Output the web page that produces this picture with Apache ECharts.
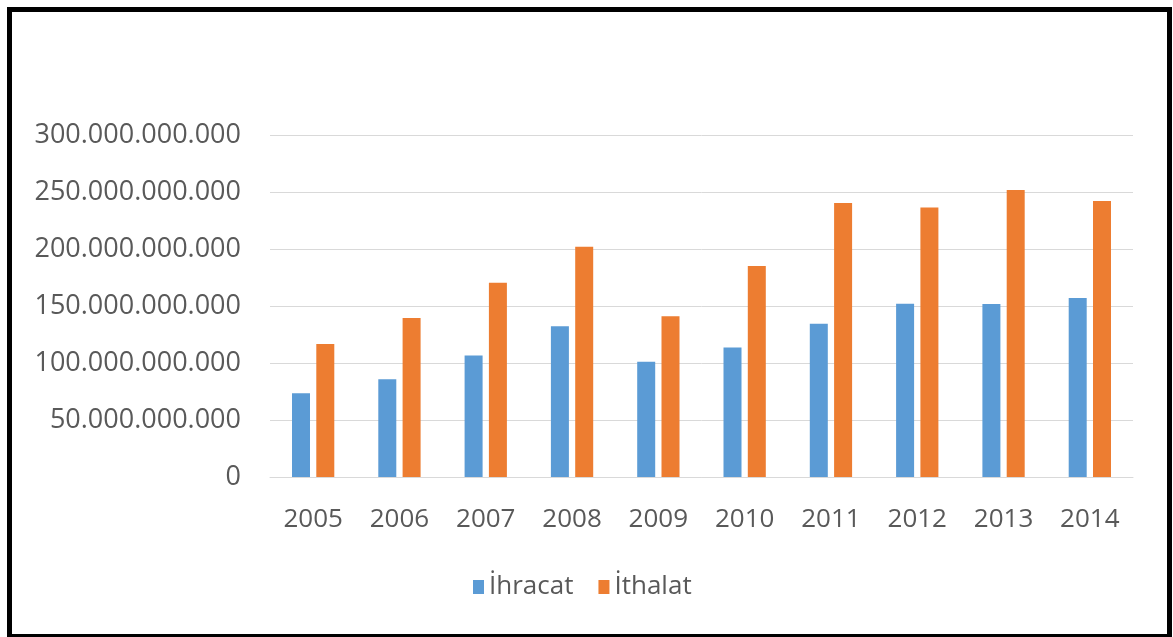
<!DOCTYPE html>
<html>
<head>
<meta charset="utf-8">
<script src="https://cdn.jsdelivr.net/npm/echarts@6/dist/echarts.min.js"></script>
<style>
  html, body { margin: 0; padding: 0; background: #ffffff; }
  #chart { width: 1173px; height: 637px; }
</style>
</head>
<body>
<div id="chart"></div>
<script>
// Türkiye dış ticaret, 2005–2014 (USD)
const years = ['2005', '2006', '2007', '2008', '2009', '2010', '2011', '2012', '2013', '2014'];
const ihracat = [73400000000, 85700000000, 106500000000, 132200000000, 101200000000,
                 113500000000, 134500000000, 152000000000, 151800000000, 157000000000];
const ithalat = [116600000000, 139400000000, 170300000000, 201900000000, 140900000000,
                 185000000000, 240300000000, 236500000000, 251700000000, 242000000000];
const seriesNames = ['İhracat', 'İthalat'];
const yTicks = { min: 0, max: 300000000000, interval: 50000000000 };

// 1.000.000 style grouping
function groupDots(v) {
  return String(Math.round(v)).replace(/\B(?=(\d{3})+(?!\d))/g, '.');
}

const textColor = '#595959';
const fontFamily = '"Open Sans", "Noto Sans", sans-serif';

const chart = echarts.init(document.getElementById('chart'), null, { renderer: 'canvas' });
chart.setOption({
  backgroundColor: '#ffffff',
  animation: false,
  color: ['#5B9BD5', '#ED7D31'],
  textStyle: { fontFamily: fontFamily },
  grid: { left: 270, right: 40, top: 135, bottom: 160, containLabel: false },
  legend: {
    data: seriesNames,
    left: 468,
    top: 569,
    icon: 'rect',
    itemWidth: 11,
    itemHeight: 14,
    itemGap: 25,
    textStyle: { color: textColor, fontSize: 26, fontFamily: fontFamily }
  },
  xAxis: {
    type: 'category',
    data: years,
    axisLine: { show: true, lineStyle: { color: '#D9D9D9', width: 1 } },
    axisTick: { show: false },
    axisLabel: { color: textColor, fontSize: 26, margin: 30, fontFamily: fontFamily }
  },
  yAxis: {
    type: 'value',
    min: yTicks.min,
    max: yTicks.max,
    interval: yTicks.interval,
    axisLine: { show: false },
    axisTick: { show: false },
    splitLine: { lineStyle: { color: '#D9D9D9', width: 1 } },
    axisLabel: {
      color: textColor,
      fontSize: 27,
      margin: 29,
      fontFamily: fontFamily,
      formatter: groupDots
    }
  },
  series: [
    { name: seriesNames[0], type: 'bar', data: ihracat, barWidth: 18, barGap: '35%' },
    { name: seriesNames[1], type: 'bar', data: ithalat, barWidth: 18, barGap: '35%' }
  ],
  graphic: [
    {
      type: 'rect',
      silent: true,
      z: 100,
      shape: { x: 9.5, y: 9.5, width: 1160, height: 627 },
      style: { fill: 'none', stroke: '#000000', lineWidth: 5 }
    }
  ]
});
</script>
</body>
</html>
